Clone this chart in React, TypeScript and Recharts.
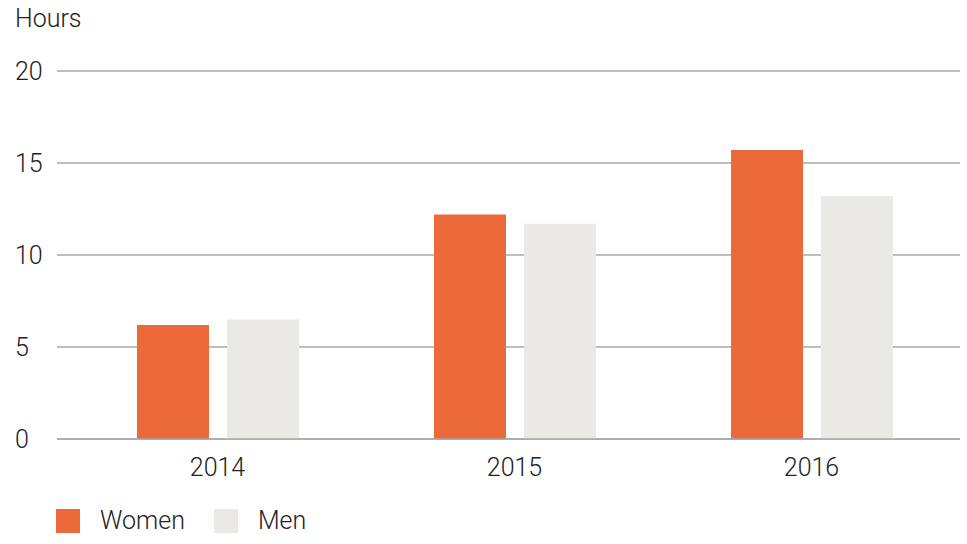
import { Bar, BarChart, CartesianGrid, XAxis, YAxis } from "recharts"

const years = ["2014", "2015", "2016"]
const women = [6.2, 12.2, 15.7]
const men = [6.5, 11.7, 13.2]
const yTicks = [0, 5, 10, 15, 20]

const data = years.map((year, i) => ({ year, women: women[i], men: men[i] }))

const font = "Roboto, 'Liberation Sans', sans-serif"
const orange = "#ec6a3a"
const grey = "#eae9e5"
const fs = 25

const YTick = (props: any) => {
  const { y, payload } = props
  return (
    <text x={15} y={y} dy={9} fontSize={fs} fontWeight={300} fontFamily={font} fill="#222" textAnchor="start">
      {payload.value}
    </text>
  )
}

const XTick = (props: any) => {
  const { x, y, payload } = props
  return (
    <text x={x} y={y} dy={29} fontSize={fs} fontWeight={300} fontFamily={font} fill="#222" textAnchor="middle">
      {payload.value}
    </text>
  )
}

const legendItems = [
  { label: "Women", color: orange },
  { label: "Men", color: grey },
]

export default function App() {
  return (
    <div style={{ position: "absolute", left: 0, top: 0, width: 967, height: 544, background: "#fff" }}>
      <div style={{ position: "absolute", left: 15, top: 4, fontFamily: font, fontWeight: 300, fontSize: fs, color: "#222" }}>
        Hours
      </div>
      <BarChart width={967} height={544} data={data} margin={{ top: 71, right: 7, bottom: 75, left: 0 }} barGap={18} barSize={72}>
        <CartesianGrid vertical={false} stroke="#a8a8a8" strokeWidth={1.5} />
        <XAxis dataKey="year" height={30} padding={{ left: 12, right: 0 }} axisLine={{ stroke: "#a8a8a8", strokeWidth: 1.5 }} tickLine={false} tick={<XTick />} />
        <YAxis width={57} domain={[0, 20]} ticks={yTicks} axisLine={false} tickLine={false} tick={<YTick />} />
        <Bar dataKey="women" fill={orange} isAnimationActive={false} />
        <Bar dataKey="men" fill={grey} isAnimationActive={false} />
      </BarChart>
      <div style={{ position: "absolute", left: 56, top: 509, display: "flex", alignItems: "center", fontFamily: font, fontWeight: 300, fontSize: fs, color: "#222", lineHeight: "24px" }}>
        {legendItems.map((item) => (
          <div key={item.label} style={{ display: "flex", alignItems: "center", marginRight: 29 }}>
            <span style={{ width: 24, height: 24, background: item.color, display: "inline-block", marginRight: 20 }} />
            <span>{item.label}</span>
          </div>
        ))}
      </div>
    </div>
  )
}
